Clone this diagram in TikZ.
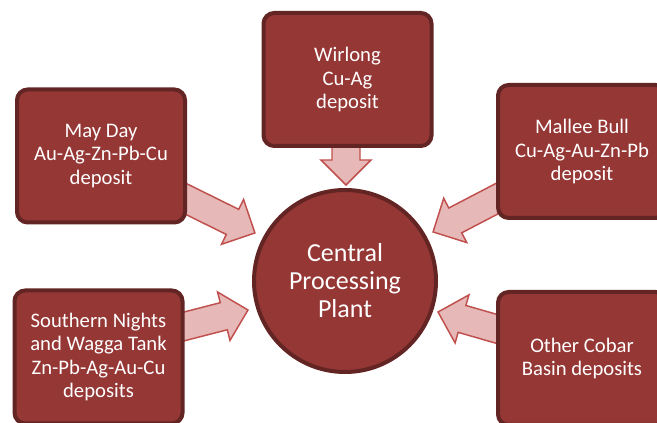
\documentclass[tikz,border=0pt]{standalone}
\usepackage{fontspec}
\setmainfont{Carlito}
\usetikzlibrary{calc,backgrounds}
\definecolor{boxfill}{HTML}{953735}
\definecolor{boxline}{HTML}{632523}
\definecolor{arrfill}{HTML}{E6B8B7}
\definecolor{arrline}{HTML}{C0504D}
\newcommand{\blockarrow}[2]{%
  \path[blockarr] let \p1=(#1), \p2=(#2),
    \n1={atan2(\y2-\y1,\x2-\x1)}, \n2={veclen(\x2-\x1,\y2-\y1)} in
    [shift={(\p1)}, rotate=\n1]
    (0pt,-10.5pt) -- ({\n2-18.75pt},-10.5pt) -- ({\n2-18.75pt},-18.75pt)
    -- ({\n2+0pt},0pt) -- ({\n2-18.75pt},18.75pt) -- ({\n2-18.75pt},10.5pt)
    -- (0pt,10.5pt) -- cycle;}
\begin{document}
\begin{tikzpicture}[x=0.75pt,y=-0.75pt,
  deposit/.style={draw=boxline, fill=boxfill, line width=3pt, rounded corners=8pt,
    minimum width=126pt, minimum height=99.75pt, align=center, text=white,
    font=\fontsize{15.5}{17.5}\selectfont, inner sep=0pt},
  plant/.style={circle, draw=boxline, fill=boxfill, line width=3pt,
    minimum size=136.5pt, align=center, text=white,
    font=\fontsize{19.5}{21}\selectfont, inner sep=0pt},
  blockarr/.style={draw=arrline, fill=arrfill, line width=1.1pt, line join=miter}]
\useasboundingbox (0,0) rectangle (657,423);
\clip (0,0) rectangle (657,423);

\node[plant] (cpp) at (345,281) {Central\\Processing\\Plant};
\node[deposit] (wir) at (347.5,79.5) {Wirlong\\Cu-Ag\\deposit};
\node[deposit] (may) at (101,156) {May Day\\Au-Ag-Zn-Pb-Cu\\deposit};
\node[deposit] (mal) at (582,151.5) {Mallee Bull\\Cu-Ag-Au-Zn-Pb\\deposit};
\node[deposit] (sou) at (98.5,357) {Southern Nights\\and Wagga Tank\\Zn-Pb-Ag-Au-Cu\\deposits};
\node[deposit] (oth) at (582,358.5) {Other Cobar\\Basin deposits};

\coordinate (wirS) at (346,140);  \coordinate (wirT) at (346,185);
\coordinate (mayS) at (180,196);  \coordinate (mayT) at (255,233);
\coordinate (malS) at (504,195);  \coordinate (malT) at (433,232);
\coordinate (souS) at (178,328);  \coordinate (souT) at (248,310);
\coordinate (othS) at (504,331);  \coordinate (othT) at (438,312);

\begin{scope}[on background layer]
  \blockarrow{wirS}{wirT}
  \blockarrow{mayS}{mayT}
  \blockarrow{malS}{malT}
  \blockarrow{souS}{souT}
  \blockarrow{othS}{othT}
\end{scope}
\end{tikzpicture}
\end{document}
